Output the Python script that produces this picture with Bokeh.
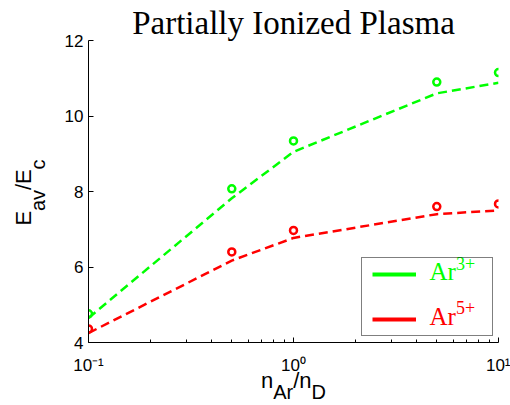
from bokeh.plotting import figure
from bokeh.models import (Range1d, Label, Legend, LegendItem, FixedTicker,
                          LogAxis, LinearAxis)
from bokeh.embed import file_html
from bokeh.resources import INLINE

# ---- data ----
n_ratio = [0.1, 0.5, 1.0, 5.0, 10.0]
ar3_points = [4.76, 8.07, 9.34, 10.90, 11.15]
ar3_curve = [4.65, 7.82, 9.05, 10.60, 10.88]
ar5_points = [4.36, 6.40, 6.97, 7.60, 7.67]
ar5_curve = [4.25, 6.17, 6.77, 7.40, 7.50]
y_ticks = [4, 6, 8, 10, 12]
x_ticks = [0.1, 1, 10]
x_tick_labels = ["10\u207b\u00b9", "10\u2070", "10\u00b9"]
title_text = "Partially Ionized Plasma"
legend_names = [("Ar", "3+"), ("Ar", "5+")]
# axis titles as runs: (text, is_subscript)
xlabel_runs = [("n", False), ("Ar", True), ("/n", False), ("D", True)]
ylabel_runs = [("E", False), ("av", True), ("/E", False), ("c", True)]

GREEN = "#00ff00"
RED = "#ff0000"

W, H = 510, 405
FL, FR, FT, FB = 88, 12, 40, 61
FW = W - FL - FR
FH = H - FT - FB
MAIN, SUB = 22, 20

p = figure(width=W, height=H, x_axis_type="log",
           x_range=Range1d(0.1, 10), y_range=Range1d(4, 12),
           output_backend="svg", toolbar_location=None,
           min_border_left=FL, min_border_right=FR,
           min_border_top=FT, min_border_bottom=FB)
p.background_fill_color = "white"
p.border_fill_color = "white"
p.outline_line_color = None
p.xgrid.grid_line_color = None
p.ygrid.grid_line_color = None

# title
p.title.text = title_text
p.title.text_font = "Liberation Serif"
p.title.text_font_size = "33px"
p.title.text_font_style = "normal"
p.title.text_color = "black"
p.title.align = "center"
p.title.standoff = 0

minor = [m * 10.0 ** e for e in (-1, 0) for m in range(2, 10)]
p.xaxis.ticker = FixedTicker(ticks=x_ticks, minor_ticks=minor)
p.xaxis.major_label_overrides = dict(zip(x_ticks, x_tick_labels))
p.yaxis.ticker = FixedTicker(ticks=y_ticks)
for ax in (p.xaxis[0], p.yaxis[0]):
    ax.axis_line_color = "black"
    ax.axis_line_width = 1
    ax.major_tick_in = 5
    ax.major_tick_out = 0
    ax.minor_tick_in = 3
    ax.minor_tick_out = 0
    ax.major_tick_line_color = "black"
    ax.minor_tick_line_color = "black"
    ax.major_label_text_font = "Liberation Sans"
    ax.major_label_text_font_size = "17px"
    ax.major_label_text_color = "black"
p.yaxis.minor_tick_line_color = None
p.yaxis.major_label_standoff = 5
p.xaxis.major_label_standoff = 13

# ---- data marks ----
p.line(n_ratio, ar3_curve, line_color=GREEN, line_width=2.5, line_dash="9 5")
p.line(n_ratio, ar5_curve, line_color=RED, line_width=2.5, line_dash="9 5")
p.scatter(n_ratio, ar3_points, marker="circle", size=7, fill_color=None,
          line_color=GREEN, line_width=2.5)
p.scatter(n_ratio, ar5_points, marker="circle", size=7, fill_color=None,
          line_color=RED, line_width=2.5)

# ---- legend: solid swatches from hidden renderers, coloured labels on top ----
sw3 = p.line(n_ratio, ar3_curve, line_color=GREEN, line_width=4, visible=False)
sw5 = p.line(n_ratio, ar5_curve, line_color=RED, line_width=4, visible=False)
legend = Legend(items=[LegendItem(label=" ", renderers=[sw3]),
                       LegendItem(label=" ", renderers=[sw5])],
                location=(273, 6), orientation="vertical", padding=10,
                spacing=33, glyph_width=44, glyph_height=12, label_width=61,
                label_height=12, label_standoff=5, label_text_font_size="8px",
                border_line_color="black", border_line_width=1,
                background_fill_alpha=0, inactive_fill_alpha=0,
                click_policy="none", margin=0)
p.add_layout(legend)

for (base_txt, sup_txt), col, bl in zip(legend_names, [GREEN, RED], [71, 26.5]):
    p.add_layout(Label(x=341, y=bl, x_units="screen", y_units="screen",
                       text=base_txt, text_font="Liberation Serif",
                       text_font_size="25px", text_color=col,
                       text_baseline="alphabetic"))
    p.add_layout(Label(x=341 + 1.055 * 25, y=bl + 8.5, x_units="screen",
                       y_units="screen", text=sup_txt,
                       text_font="Liberation Serif", text_font_size="18px",
                       text_color=col, text_baseline="alphabetic"))

# ---- axis titles with subscripts (carried by label-only axes) ----
ADV = {"E": .667, "a": .556, "v": .5, "/": .278, "c": .5, "n": .556,
       "A": .667, "r": .333, "D": .722}


def layout_runs(runs, center):
    sizes = [SUB if sub else MAIN for _, sub in runs]
    widths = [sum(ADV[c] for c in t) * s for (t, _), s in zip(runs, sizes)]
    pos = center - sum(widths) / 2
    mids = []
    for w in widths:
        mids.append(pos + w / 2)
        pos += w
    return mids


def text_axis(cls, ticks, texts, size, standoff, orientation="horizontal"):
    ax = cls(ticker=FixedTicker(ticks=ticks, minor_ticks=[]),
             major_label_overrides=dict(zip(ticks, texts)))
    ax.axis_line_color = None
    ax.major_tick_line_color = None
    ax.minor_tick_line_color = None
    ax.major_tick_in = 0
    ax.major_tick_out = 0
    ax.minor_tick_in = 0
    ax.minor_tick_out = 0
    ax.major_label_standoff = standoff
    ax.major_label_text_font = "Liberation Sans"
    ax.major_label_text_font_size = f"{size}px"
    ax.major_label_text_color = "black"
    ax.major_label_orientation = orientation
    return ax


# x title: centred on the frame, main runs then subscripts below
xm = layout_runs(xlabel_runs, FL + FW / 2)
xpos = [round(10 ** (-1 + 2 * (m - FL) / FW), 6) for m in xm]
x_main = [(x, t) for x, (t, s) in zip(xpos, xlabel_runs) if not s]
x_sub = [(x, t) for x, (t, s) in zip(xpos, xlabel_runs) if s]
p.add_layout(text_axis(LogAxis, [a for a, _ in x_main], [b for _, b in x_main], MAIN, -10), "below")
p.add_layout(text_axis(LogAxis, [a for a, _ in x_sub], [b for _, b in x_sub], SUB, -15), "below")

# y title: reads bottom to top, centred at 193 px from the top
ym_rev = layout_runs(ylabel_runs, 0)
ypix = [193 - m for m in ym_rev]
ypos = [round(4 + 8 * (FT + FH - py) / FH, 6) for py in ypix]
y_main = [(y, t) for y, (t, s) in zip(ypos, ylabel_runs) if not s]
y_sub = [(y, t) for y, (t, s) in zip(ypos, ylabel_runs) if s]
p.add_layout(text_axis(LinearAxis, [a for a, _ in y_sub], [b for _, b in y_sub], SUB, 12, "parallel"), "left")
p.add_layout(text_axis(LinearAxis, [a for a, _ in y_main], [b for _, b in y_main], MAIN, -12, "parallel"), "left")

open("out.html", "w").write(file_html(p, INLINE))
